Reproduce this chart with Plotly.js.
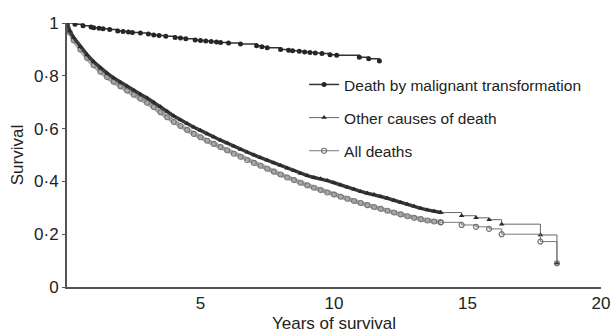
<!DOCTYPE html>
<html>
<head>
<meta charset="utf-8">
<script src="https://cdn.plot.ly/plotly-3.0.1.min.js"></script>
<style>html,body{margin:0;padding:0;background:#fff;}#chart{width:611px;height:333px;}</style>
</head>
<body>
<div id="chart"></div>
<script>
// Series names
var seriesNames = ["Death by malignant transformation", "Other causes of death", "All deaths"];

// Death by malignant transformation
var malignantYears = [0, 0.3, 0.6, 0.9, 1.0, 1.2, 1.35, 1.6, 1.9, 2.1, 2.3, 2.45, 2.75, 3.05, 3.25, 3.45, 3.7, 4.05, 4.25, 4.45, 4.8, 5.0, 5.2, 5.4, 5.6, 5.75, 6.05, 6.5, 7.1, 7.3, 7.5, 8.0, 8.3, 8.45, 8.7, 8.9, 9.1, 9.3, 9.55, 9.85, 10.1, 10.95, 11.3, 11.7];
var malignantSurv = [1.0, 0.995, 0.99, 0.985, 0.982, 0.98, 0.978, 0.975, 0.97, 0.968, 0.966, 0.964, 0.962, 0.958, 0.955, 0.953, 0.95, 0.945, 0.943, 0.94, 0.936, 0.934, 0.932, 0.93, 0.928, 0.926, 0.924, 0.92, 0.914, 0.91, 0.906, 0.9, 0.897, 0.895, 0.893, 0.89, 0.888, 0.886, 0.884, 0.88, 0.878, 0.87, 0.865, 0.856];

// Other causes of death
var otherYears = [0, 0.1, 0.25, 0.5, 0.75, 1.0, 1.25, 1.5, 1.75, 2.0, 2.25, 2.5, 2.75, 3.0, 3.25, 3.5, 3.75, 4.0, 4.25, 4.5, 4.75, 5.0, 5.25, 5.5, 5.75, 6.0, 6.25, 6.5, 6.75, 7.0, 7.25, 7.5, 7.75, 8.0, 8.25, 8.5, 8.75, 9.0, 9.25, 9.5, 9.75, 10.0, 10.25, 10.5, 10.75, 11.0, 11.25, 11.5, 11.75, 12.0, 12.25, 12.5, 12.75, 13.0, 13.25, 13.5, 13.75, 14.0, 14.78, 15.32, 15.81, 16.28, 17.73, 18.35];
var otherSurv = [1.0, 0.97, 0.945, 0.91, 0.88, 0.853, 0.83, 0.81, 0.792, 0.776, 0.76, 0.745, 0.73, 0.716, 0.70, 0.683, 0.665, 0.648, 0.633, 0.618, 0.605, 0.593, 0.58, 0.568, 0.556, 0.545, 0.533, 0.521, 0.51, 0.50, 0.49, 0.48, 0.47, 0.46, 0.45, 0.44, 0.43, 0.422, 0.415, 0.41, 0.403, 0.395, 0.386, 0.378, 0.37, 0.362, 0.355, 0.35, 0.343, 0.336, 0.328, 0.32, 0.313, 0.306, 0.298, 0.292, 0.287, 0.282, 0.27, 0.262, 0.255, 0.238, 0.197, 0.09];

// All deaths
var allYears = [0, 0.1, 0.25, 0.5, 0.75, 1.0, 1.25, 1.5, 1.75, 2.0, 2.25, 2.5, 2.75, 3.0, 3.25, 3.5, 3.75, 4.0, 4.25, 4.5, 4.75, 5.0, 5.25, 5.5, 5.75, 6.0, 6.25, 6.5, 6.75, 7.0, 7.25, 7.5, 7.75, 8.0, 8.25, 8.5, 8.75, 9.0, 9.25, 9.5, 9.75, 10.0, 10.25, 10.5, 10.75, 11.0, 11.25, 11.5, 11.75, 12.0, 12.25, 12.5, 12.75, 13.0, 13.25, 13.5, 13.75, 14.0, 14.78, 15.32, 15.81, 16.28, 17.73, 18.35];
var allSurv = [1.0, 0.965, 0.935, 0.9, 0.868, 0.84, 0.815, 0.795, 0.777, 0.76, 0.744, 0.728, 0.713, 0.698, 0.682, 0.662, 0.643, 0.625, 0.61, 0.595, 0.58, 0.567, 0.554, 0.542, 0.53, 0.518, 0.505, 0.493, 0.481, 0.47, 0.459, 0.448, 0.437, 0.426, 0.415, 0.405, 0.395, 0.385, 0.376, 0.367, 0.358, 0.35, 0.342, 0.334, 0.326, 0.318, 0.31, 0.303, 0.296, 0.289, 0.282, 0.275, 0.268, 0.262, 0.257, 0.252, 0.248, 0.245, 0.235, 0.228, 0.22, 0.2, 0.172, 0.09];

// Axis ticks
var yTickVals = [0, 0.2, 0.4, 0.6, 0.8, 1];
var yTickText = ["0", "0·2", "0·4", "0·6", "0·8", "1"];
var xTickVals = [5, 10, 15, 20];
var xTickText = ["5", "10", "15", "20"];

// Year where the densely censored part ends and the sparse tail starts
var denseEnd = 14.0;

var FONT = "Liberation Sans, Arial, Helvetica, sans-serif";

function splitAt(xs, ys, cut) {
  var i = xs.indexOf(cut);
  return {dx: xs.slice(0, i + 1), dy: ys.slice(0, i + 1), tx: xs.slice(i), ty: ys.slice(i)};
}
var oth = splitAt(otherYears, otherSurv, denseEnd);
var all = splitAt(allYears, allSurv, denseEnd);

var traces = [
  {
    x: malignantYears, y: malignantSurv, name: seriesNames[0], legendgroup: "a",
    type: "scatter", mode: "lines+markers",
    line: {shape: "hv", color: "#333", width: 1.5},
    marker: {symbol: "circle", size: 5, color: "#262626"}
  },
  // All deaths: dense band (no legend) then tail
  {
    x: all.dx, y: all.dy, name: seriesNames[2], legendgroup: "c", showlegend: false,
    type: "scatter", mode: "lines+markers",
    line: {shape: "linear", color: "#a8a8a8", width: 4.5},
    marker: {symbol: "circle-open", size: 5, color: "#777", line: {width: 1.1, color: "#777"}}
  },
  // Other causes: dense band then tail
  {
    x: oth.dx, y: oth.dy, name: seriesNames[1], legendgroup: "b", showlegend: false,
    type: "scatter", mode: "lines+markers",
    line: {shape: "linear", color: "#3a3a3a", width: 3.5},
    marker: {symbol: "triangle-up", size: 5, color: "#2a2a2a"}
  },
  {
    x: oth.tx, y: oth.ty, name: seriesNames[1], legendgroup: "b",
    type: "scatter", mode: "lines+markers",
    line: {shape: "hv", color: "#666", width: 1},
    marker: {symbol: "triangle-up", size: 5, color: "#2a2a2a"}
  },
  {
    x: all.tx, y: all.ty, name: seriesNames[2], legendgroup: "c",
    type: "scatter", mode: "lines+markers",
    line: {shape: "hv", color: "#777", width: 1},
    marker: {symbol: "circle-open", size: 5, color: "#707070", line: {width: 1.2, color: "#707070"}}
  }
];

var layout = {
  width: 611, height: 333,
  margin: {l: 67, r: 10, t: 23, b: 46, pad: 0},
  paper_bgcolor: "#fff", plot_bgcolor: "#fff",
  font: {family: FONT, color: "#222", size: 17},
  showlegend: true,
  legend: {
    x: 0.444, y: 0.83, xanchor: "left", yanchor: "top",
    bgcolor: "rgba(0,0,0,0)", borderwidth: 0,
    font: {family: FONT, size: 15.5, color: "#222"},
    tracegroupgap: 10, itemwidth: 30, traceorder: "grouped"
  },
  xaxis: {
    range: [0, 20], tickvals: xTickVals, ticktext: xTickText,
    showgrid: false, zeroline: false, showline: true, linecolor: "#555", linewidth: 1.5,
    ticks: "", tickfont: {family: FONT, size: 17, color: "#222"},
    automargin: false,
    title: {text: "Years of survival", font: {family: FONT, size: 17, color: "#222"}, standoff: 11}
  },
  yaxis: {
    range: [0, 1], tickvals: yTickVals, ticktext: yTickText,
    showgrid: false, zeroline: false, showline: true, linecolor: "#555", linewidth: 2,
    ticks: "outside", ticklen: 3, tickcolor: "#555",
    tickfont: {family: FONT, size: 17, color: "#222"},
    automargin: false,
    title: {text: "Survival", font: {family: FONT, size: 17, color: "#222"}, standoff: 6}
  }
};

Plotly.newPlot("chart", traces, layout, {staticPlot: true, displayModeBar: false});
</script>
</body>
</html>
